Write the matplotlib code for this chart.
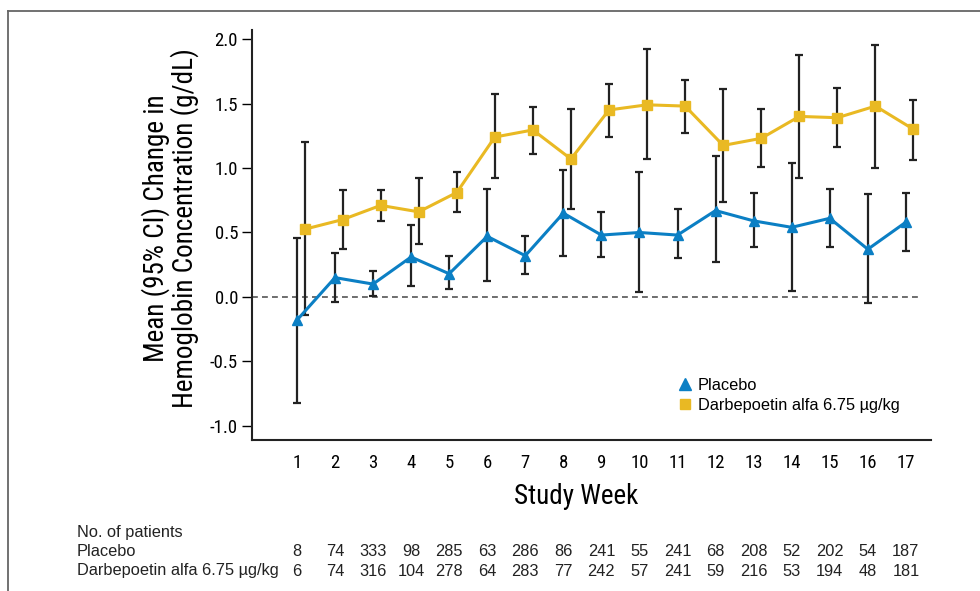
import matplotlib
matplotlib.use("Agg")
import matplotlib.pyplot as plt
import matplotlib.transforms as mtransforms
from matplotlib.lines import Line2D
from matplotlib import font_manager as fm
import numpy as np

weeks = list(range(1, 18))
placebo_mean = [-0.18, 0.15, 0.10, 0.31, 0.18, 0.47, 0.32, 0.65, 0.48, 0.50, 0.48, 0.67, 0.59, 0.54, 0.61, 0.37, 0.58]
placebo_hi = [0.46, 0.34, 0.20, 0.56, 0.315, 0.84, 0.475, 0.985, 0.66, 0.97, 0.68, 1.09, 0.81, 1.04, 0.84, 0.80, 0.81]
placebo_lo = [-0.82, -0.04, 0.01, 0.085, 0.06, 0.12, 0.18, 0.32, 0.31, 0.035, 0.30, 0.27, 0.385, 0.05, 0.39, -0.05, 0.355]
darbe_mean = [0.525, 0.60, 0.71, 0.66, 0.81, 1.24, 1.295, 1.07, 1.45, 1.49, 1.48, 1.175, 1.23, 1.40, 1.39, 1.48, 1.30]
darbe_hi = [1.20, 0.83, 0.83, 0.92, 0.97, 1.57, 1.475, 1.46, 1.655, 1.92, 1.68, 1.615, 1.455, 1.88, 1.62, 1.95, 1.53]
darbe_lo = [-0.14, 0.375, 0.59, 0.41, 0.66, 0.92, 1.11, 0.685, 1.24, 1.07, 1.27, 0.735, 1.01, 0.92, 1.165, 1.00, 1.065]
n_placebo = [8, 74, 333, 98, 285, 63, 286, 86, 241, 55, 241, 68, 208, 52, 202, 54, 187]
n_darbe = [6, 74, 316, 104, 278, 64, 283, 77, 242, 57, 241, 59, 216, 53, 194, 48, 181]
yticks = [-1.0, -0.5, 0.0, 0.5, 1.0, 1.5, 2.0]
label_placebo = "Placebo"
label_darbe = "Darbepoetin alfa 6.75 \u00b5g/kg"

BLUE = "#0b7fc4"
GOLD = "#e9b923"

names = {f.name for f in fm.fontManager.ttflist}
cond_family = None
for cand in ["Liberation Sans Narrow", "Roboto Condensed", "Open Sans Condensed", "DejaVu Sans Condensed"]:
    if cand in names:
        cond_family = cand
        break
if cond_family:
    COND_KW = {"fontfamily": [cond_family, "DejaVu Sans"]}
else:
    COND_KW = {"fontfamily": ["DejaVu Sans"], "fontstretch": "condensed"}
REG = ["Liberation Sans", "DejaVu Sans"]

W, H = 980, 591
fig = plt.figure(figsize=(W / 100, H / 100), dpi=100)
ax = fig.add_axes([252 / W, 1 - 440 / H, (931 - 252) / W, (440 - 30) / H])

x = np.array(weeks, dtype=float)
xd = x + 0.2
pm = np.array(placebo_mean); dm = np.array(darbe_mean)
perr = [pm - np.array(placebo_lo), np.array(placebo_hi) - pm]
derr = [dm - np.array(darbe_lo), np.array(darbe_hi) - dm]

ax.plot([-0.18, 17.37], [0, 0], ls=(0, (3.5, 2.5)), color="#555555", lw=1.2, zorder=1)

ax.errorbar(x, pm, yerr=perr, fmt="none", ecolor="#222222", elinewidth=1.6,
            capsize=2.8, capthick=1.6, zorder=2)
ax.errorbar(xd, dm, yerr=derr, fmt="none", ecolor="#222222", elinewidth=1.6,
            capsize=2.8, capthick=1.6, zorder=2)
ax.plot(x, pm, color=BLUE, lw=2.2, marker="^", ms=7.5, zorder=3)
ax.plot(xd, dm, color=GOLD, lw=2.2, marker="s", ms=6.8, zorder=3)

ax.set_xlim(-0.18, 17.66)
ax.set_ylim(-1.109, 2.07)
ax.set_yticks(yticks)
ax.set_yticklabels([f"{v:.1f}" for v in yticks], fontsize=13.5, **COND_KW)
ax.set_xticks(weeks)
ax.set_xticklabels([str(w) for w in weeks], fontsize=13.5, **COND_KW)
ax.tick_params(axis="x", length=0, pad=10)
ax.tick_params(axis="y", length=7, width=1, direction="out", pad=3)
for s in ["top", "right"]:
    ax.spines[s].set_visible(False)
for s in ["left", "bottom"]:
    ax.spines[s].set_linewidth(1.5)
    ax.spines[s].set_color("#222222")

ax.set_xlabel("Study Week", fontsize=19.5, **COND_KW)
ax.xaxis.set_label_coords((576 - 252) / 679, (440 - 497) / 410)
ax.xaxis.label.set_va("center")
ax.set_ylabel("Mean (95% CI) Change in\nHemoglobin Concentration (g/dL)",
              fontsize=19.5, linespacing=1.0, **COND_KW)
ax.yaxis.set_label_coords((170 - 252) / 679, 1 - (228 - 30) / 410)
ax.yaxis.label.set_va("center")

handles = [Line2D([], [], ls="none", marker="^", color=BLUE, ms=8),
           Line2D([], [], ls="none", marker="s", color=GOLD, ms=7.5)]
ax.legend(handles, [label_placebo, label_darbe], loc="upper left",
          bbox_to_anchor=((678 - 252) / 679, (440 - 378) / 410), frameon=False,
          prop={"family": REG, "size": 11.8}, handlelength=0.8, handletextpad=0.4,
          labelspacing=0.3, borderpad=0, borderaxespad=0)

# patient table
TS = 11.8
tr = mtransforms.blended_transform_factory(ax.transData, fig.transFigure)
fig.text(77 / W, 1 - 533 / H, "No. of patients", fontfamily=REG, fontsize=TS, va="center", ha="left", color="#222222")
fig.text(77 / W, 1 - 552 / H, label_placebo, fontfamily=REG, fontsize=TS, va="center", ha="left", color="#222222")
fig.text(77 / W, 1 - 571 / H, label_darbe, fontfamily=REG, fontsize=TS, va="center", ha="left", color="#222222")
for w, a, b in zip(weeks, n_placebo, n_darbe):
    ax.text(w, 1 - 552 / H, str(a), transform=tr, fontfamily=REG, fontsize=TS, ha="center", va="center", color="#222222", clip_on=False)
    ax.text(w, 1 - 571 / H, str(b), transform=tr, fontfamily=REG, fontsize=TS, ha="center", va="center", color="#222222", clip_on=False)

# frame lines
fig.add_artist(Line2D([8 / W, 1], [1 - 11 / H, 1 - 11 / H], color="#666666", lw=1.3, transform=fig.transFigure))
fig.add_artist(Line2D([8 / W, 8 / W], [1 - 11 / H, 0], color="#666666", lw=1.3, transform=fig.transFigure))

fig.savefig("out.png", dpi=100)
